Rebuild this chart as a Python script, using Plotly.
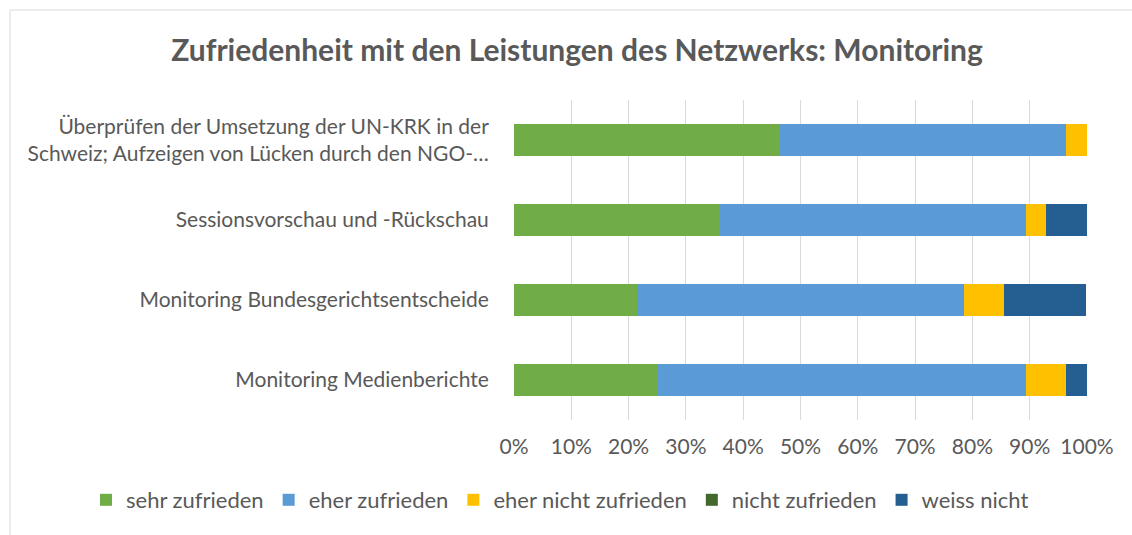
import plotly.graph_objects as go

categories = [
    "Überprüfen der Umsetzung der UN-KRK in der<br>Schweiz; Aufzeigen von Lücken durch den NGO-…",
    "Sessionsvorschau und -Rückschau",
    "Monitoring Bundesgerichtsentscheide",
    "Monitoring Medienberichte",
]
series_names = ["sehr zufrieden", "eher zufrieden", "eher nicht zufrieden", "nicht zufrieden", "weiss nicht"]
sehr_zufrieden = [0.464, 0.357, 0.214, 0.250]
eher_zufrieden = [0.500, 0.536, 0.571, 0.643]
eher_nicht_zufrieden = [0.036, 0.036, 0.071, 0.071]
nicht_zufrieden = [0.0, 0.0, 0.0, 0.0]
weiss_nicht = [0.0, 0.071, 0.143, 0.036]
colors = ["#70AD47", "#5B9BD5", "#FFC000", "#43682B", "#255E91"]
tick_vals = [i / 10 for i in range(11)]
tick_text = [f"{i*10}%" for i in range(11)]

values = [sehr_zufrieden, eher_zufrieden, eher_nicht_zufrieden, nicht_zufrieden, weiss_nicht]

FONT = "Lato"
GREY = "#595959"

fig = go.Figure()
for name, vals, col in zip(series_names, values, colors):
    fig.add_trace(go.Bar(
        y=categories, x=vals, name=name, orientation="h",
        marker=dict(color=col, line=dict(width=0)),
        width=0.4,
    ))

fig.update_layout(
    barmode="stack",
    width=1132, height=535,
    paper_bgcolor="white", plot_bgcolor="white",
    margin=dict(l=514, r=45, t=100, b=115, autoexpand=False),
    title=dict(
        text="<b>Zufriedenheit mit den Leistungen des Netzwerks: Monitoring</b>",
        x=577 / 1132, xref="container", xanchor="center",
        y=1 - 50 / 535, yref="container", yanchor="middle",
        font=dict(family=FONT, size=30, color=GREY),
    ),
    font=dict(family=FONT, size=21, color=GREY),
    showlegend=True,
    legend=dict(
        orientation="h", x=(86 - 514) / 573, xref="paper", xanchor="left",
        y=(420 - 500) / 320, yref="paper", yanchor="middle",
        font=dict(family=FONT, size=22, color=GREY),
        traceorder="normal", itemwidth=30, tracegroupgap=0,
    ),
    xaxis=dict(
        range=[0, 1], tickvals=tick_vals, ticktext=tick_text,
        showgrid=True, gridcolor="#D9D9D9", gridwidth=1,
        zeroline=False, showline=False,
        ticks="outside", ticklen=8, tickcolor="rgba(0,0,0,0)",
        tickfont=dict(family=FONT, size=21, color=GREY),
    ),
    yaxis=dict(
        autorange="reversed", showgrid=False, zeroline=False,
        ticks="outside", ticklen=20, tickcolor="rgba(0,0,0,0)",
        tickfont=dict(family=FONT, size=21, color=GREY),
    ),
)

# chart area border (only top/left visible in reference)
fig.add_shape(type="rect", xref="paper", yref="paper",
              x0=(10 - 514) / 573, x1=1.3, y0=-0.6, y1=(420 - 10) / 320,
              line=dict(color="#D9D9D9", width=1), layer="below")

fig.write_html(
    "out.html",
    config={"displayModeBar": False},
    post_script="document.body.style.margin='0';document.body.style.overflow='hidden';",
)
